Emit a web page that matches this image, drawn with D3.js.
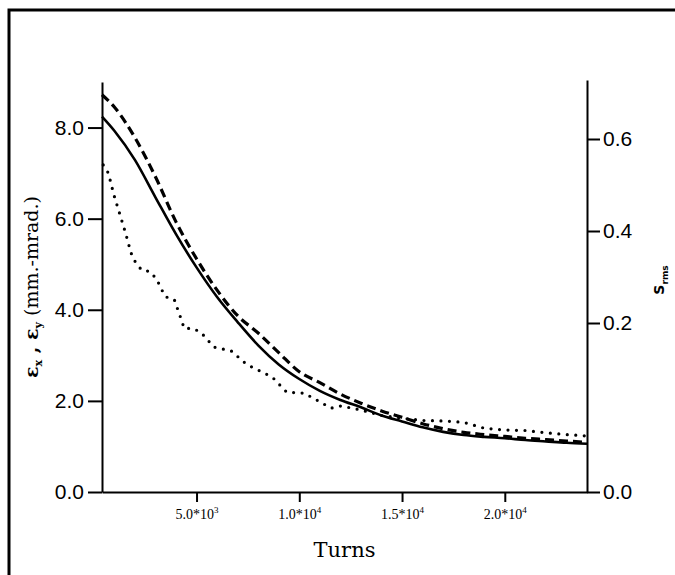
<!DOCTYPE html>
<html>
<head>
<meta charset="utf-8">
<script src="https://cdn.jsdelivr.net/npm/d3@7"></script>
<style>
  body { margin: 0; background: #fff; }
  svg { display: block; }
</style>
</head>
<body>
<div id="chart"></div>
<script>
// tick values / labels
const turnTicks = [5000, 10000, 15000, 20000];
const turnTickLabels = [["5.0*10", "3"], ["1.0*10", "4"], ["1.5*10", "4"], ["2.0*10", "4"]];
const emitTicks = [0, 2, 4, 6, 8];
const srmsTicks = [0, 0.2, 0.4, 0.6];

// solid curve
const solidTurns = [400, 1000, 2000, 3000, 4000, 5000, 6000, 7000, 8000, 9000, 10000, 11000, 12000,
  13000, 14000, 15000, 16000, 17000, 18000, 19000, 20000, 21000, 22000, 23000, 24000];
const solidVals = [8.24, 7.93, 7.29, 6.47, 5.66, 4.93, 4.28, 3.73, 3.22, 2.80, 2.48, 2.22, 2.02,
  1.86, 1.68, 1.55, 1.42, 1.32, 1.25, 1.21, 1.18, 1.14, 1.11, 1.08, 1.06];

// dashed curve
const dashTurns = solidTurns;
const dashVals = [8.72, 8.45, 7.78, 6.92, 5.93, 5.12, 4.43, 3.87, 3.49, 3.06, 2.64, 2.40, 2.15,
  1.95, 1.78, 1.64, 1.50, 1.39, 1.31, 1.26, 1.22, 1.18, 1.15, 1.12, 1.09];

// dotted curve
const dotTurns = [460, 710, 980, 1280, 1550, 1810, 2010, 2330, 2740, 3060, 3470, 3920, 4240, 4400,
  4840, 5220, 5850, 6680, 7440, 8300, 8690, 9390, 10240, 11120, 11540, 12030, 13000, 14000,
  15000, 16000, 17000, 18000, 19000, 20000, 21000, 22000, 23000, 24000];
const dotVals = [7.18, 7.0, 6.52, 6.08, 5.68, 5.25, 5.06, 4.87, 4.84, 4.67, 4.29, 4.22, 3.81, 3.59,
  3.59, 3.50, 3.18, 3.10, 2.80, 2.61, 2.52, 2.19, 2.17, 1.95, 1.84, 1.89, 1.80, 1.68,
  1.62, 1.57, 1.56, 1.53, 1.40, 1.36, 1.35, 1.30, 1.26, 1.23];

const width = 675, height = 575;
const margin = {top: 82, right: 88, bottom: 83, left: 102};

const svg = d3.select("#chart").append("svg")
  .attr("width", width)
  .attr("height", height);

// outer frame (scan border)
svg.append("path")
  .attr("d", "M9,575 V10 H675")
  .attr("fill", "none")
  .attr("stroke", "#000")
  .attr("stroke-width", 3);

const x = d3.scaleLinear().domain([400, 24000]).range([margin.left, width - margin.right]);
const y = d3.scaleLinear().domain([0, 9]).range([height - margin.bottom, margin.top]);
// right axis in the original is unevenly spaced below 0.2
const yR = d3.scaleLinear().domain([0, 0.2, 0.6, 0.73]).range([height - margin.bottom, 323, 139, 80]);

// axes
const gx = svg.append("g")
  .attr("transform", `translate(0,${height - margin.bottom})`)
  .call(d3.axisBottom(x).tickValues(turnTicks).tickSize(10).tickSizeOuter(0).tickFormat(""));
gx.selectAll(".tick text").remove();
gx.selectAll(".tick").append("text")
  .attr("y", 27)
  .attr("text-anchor", "middle")
  .attr("fill", "#000")
  .style("font-family", "'Liberation Serif', serif")
  .style("font-size", "14px")
  .each(function(d, i) {
    const t = d3.select(this);
    t.append("tspan").text(turnTickLabels[i][0]);
    t.append("tspan").attr("dy", -6).style("font-size", "9px").text(turnTickLabels[i][1]);
  });

const gy = svg.append("g")
  .attr("transform", `translate(${margin.left},0)`)
  .call(d3.axisLeft(y).tickValues(emitTicks).tickFormat(d3.format(".1f")).tickSize(14).tickSizeOuter(0).tickPadding(4));
gy.selectAll("text")
  .style("font-family", "'Liberation Sans', sans-serif")
  .style("font-size", "21px");

const gr = svg.append("g")
  .attr("transform", `translate(${width - margin.right},0)`)
  .call(d3.axisRight(yR).tickValues(srmsTicks).tickFormat(d3.format(".1f")).tickSize(13).tickSizeOuter(0).tickPadding(3));
gr.selectAll("text")
  .style("font-family", "'Liberation Sans', sans-serif")
  .style("font-size", "21px");

svg.selectAll(".domain, .tick line").attr("stroke", "#000").attr("stroke-width", 2);

// axis titles
svg.append("text")
  .attr("x", (margin.left + width - margin.right) / 2)
  .attr("y", 557)
  .attr("text-anchor", "middle")
  .style("font-family", "'DejaVu Serif', serif")
  .style("font-size", "21px")
  .text("Turns");

const yl = svg.append("text")
  .attr("transform", `translate(38,${(margin.top + height - margin.bottom) / 2}) rotate(-90)`)
  .attr("text-anchor", "middle")
  .style("font-family", "'DejaVu Serif', serif")
  .style("font-size", "19px")
  .style("font-weight", "bold");
yl.append("tspan").text("ε");
yl.append("tspan").attr("dy", 4).style("font-size", "11px").text("x");
yl.append("tspan").attr("dy", -4).text(" , ε");
yl.append("tspan").attr("dy", 4).style("font-size", "11px").text("y");
yl.append("tspan").attr("dy", -4).style("font-weight", "normal").text("  (mm.-mrad.)");

const rl = svg.append("text")
  .attr("transform", "translate(664,280) rotate(-90)")
  .attr("text-anchor", "middle")
  .style("font-family", "'DejaVu Sans', sans-serif")
  .style("font-size", "14px")
  .style("font-weight", "bold");
rl.append("tspan").text("S");
rl.append("tspan").attr("dy", 4).style("font-size", "9px").text("rms");

// curves
const line = d3.line().x(d => x(d[0])).y(d => y(d[1])).curve(d3.curveMonotoneX);
const lineLin = d3.line().x(d => x(d[0])).y(d => y(d[1]));

svg.append("path")
  .datum(d3.zip(dotTurns, dotVals))
  .attr("d", lineLin)
  .attr("fill", "none")
  .attr("stroke", "#000")
  .attr("stroke-width", 3.2)
  .attr("stroke-linecap", "round")
  .attr("stroke-dasharray", "0,8.5");

svg.append("path")
  .datum(d3.zip(dashTurns, dashVals))
  .attr("d", line)
  .attr("fill", "none")
  .attr("stroke", "#000")
  .attr("stroke-width", 3.2)
  .attr("stroke-dasharray", "9,5");

svg.append("path")
  .datum(d3.zip(solidTurns, solidVals))
  .attr("d", line)
  .attr("fill", "none")
  .attr("stroke", "#000")
  .attr("stroke-width", 2.6);
</script>
</body>
</html>
